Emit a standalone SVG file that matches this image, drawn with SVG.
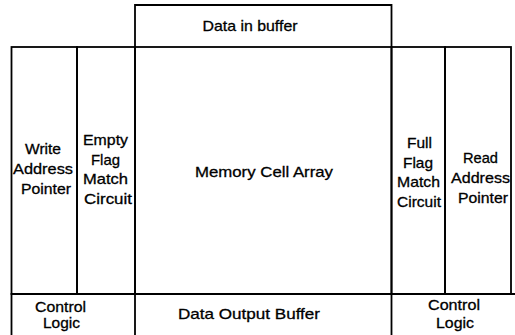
<svg xmlns="http://www.w3.org/2000/svg" width="515" height="335" viewBox="0 0 515 335">
  <style>
    .box { fill: none; stroke: #000; stroke-width: 1.8; }
    .lbl { font-family: "Liberation Sans", Arial, sans-serif; font-size: 15px; fill: #000; stroke: #000; stroke-width: 0.3; text-anchor: middle; }
  </style>
  <rect width="515" height="335" fill="#fff"/>

  <!-- top buffer -->
  <g id="data-in-buffer">
    <path class="box" d="M135,47 V5 H391.5 V47"/>
    <text class="lbl" x="250" y="31" textLength="95" lengthAdjust="spacingAndGlyphs">Data in buffer</text>
  </g>

  <!-- middle row -->
  <g id="write-address-pointer">
    <rect class="box" x="11.5" y="47" width="65.5" height="247"/>
    <text class="lbl" x="43" y="154" textLength="36" lengthAdjust="spacingAndGlyphs">Write</text>
    <text class="lbl" x="43" y="174" textLength="60" lengthAdjust="spacingAndGlyphs">Address</text>
    <text class="lbl" x="46" y="194" textLength="50" lengthAdjust="spacingAndGlyphs">Pointer</text>
  </g>

  <g id="empty-flag-match-circuit">
    <rect class="box" x="77" y="47" width="58" height="247"/>
    <text class="lbl" x="105.5" y="145" textLength="45" lengthAdjust="spacingAndGlyphs">Empty</text>
    <text class="lbl" x="105.5" y="164.5" textLength="29" lengthAdjust="spacingAndGlyphs">Flag</text>
    <text class="lbl" x="105.5" y="184" textLength="45" lengthAdjust="spacingAndGlyphs">Match</text>
    <text class="lbl" x="108" y="203.5" textLength="48" lengthAdjust="spacingAndGlyphs">Circuit</text>
  </g>

  <g id="memory-cell-array">
    <rect class="box" x="135" y="47" width="256.5" height="247"/>
    <text class="lbl" x="264" y="177" textLength="138" lengthAdjust="spacingAndGlyphs">Memory Cell Array</text>
  </g>

  <g id="full-flag-match-circuit">
    <rect class="box" x="391.5" y="47" width="53.5" height="247"/>
    <text class="lbl" x="419.5" y="148" textLength="25" lengthAdjust="spacingAndGlyphs">Full</text>
    <text class="lbl" x="418" y="167.5" textLength="30" lengthAdjust="spacingAndGlyphs">Flag</text>
    <text class="lbl" x="418.5" y="187" textLength="43" lengthAdjust="spacingAndGlyphs">Match</text>
    <text class="lbl" x="419" y="206.5" textLength="44" lengthAdjust="spacingAndGlyphs">Circuit</text>
  </g>

  <g id="read-address-pointer">
    <rect class="box" x="445" y="47" width="66" height="247"/>
    <text class="lbl" x="480.5" y="163" textLength="35" lengthAdjust="spacingAndGlyphs">Read</text>
    <text class="lbl" x="480.5" y="183" textLength="59" lengthAdjust="spacingAndGlyphs">Address</text>
    <text class="lbl" x="483" y="203" textLength="50" lengthAdjust="spacingAndGlyphs">Pointer</text>
  </g>

  <!-- bottom row -->
  <g id="control-logic-left">
    <path class="box" d="M11.5,335 V294 H135 V335"/>
    <text class="lbl" x="60.5" y="311.5" textLength="51" lengthAdjust="spacingAndGlyphs">Control</text>
    <text class="lbl" x="61.5" y="328" textLength="37" lengthAdjust="spacingAndGlyphs">Logic</text>
  </g>

  <g id="data-output-buffer">
    <path class="box" d="M135,294 H391.5"/>
    <text class="lbl" x="249" y="319" textLength="142" lengthAdjust="spacingAndGlyphs">Data Output Buffer</text>
  </g>

  <g id="control-logic-right">
    <path class="box" d="M391.5,335 V294 H515"/>
    <text class="lbl" x="454" y="310" textLength="52" lengthAdjust="spacingAndGlyphs">Control</text>
    <text class="lbl" x="455" y="327.5" textLength="38" lengthAdjust="spacingAndGlyphs">Logic</text>
  </g>
</svg>
